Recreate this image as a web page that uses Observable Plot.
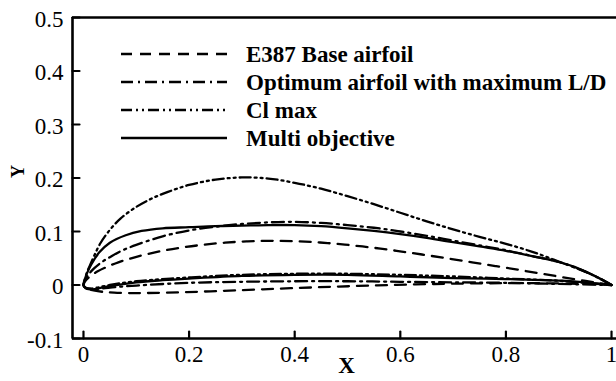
<!DOCTYPE html>
<html>
<head>
<meta charset="utf-8">
<script src="https://cdn.jsdelivr.net/npm/d3@7"></script>
<script src="https://cdn.jsdelivr.net/npm/@observablehq/plot@0.6"></script>
<style>
  html, body { margin: 0; padding: 0; background: #fff; overflow: hidden; }
</style>
</head>
<body>
<div id="chart"></div>
<script>
// Axis ticks and their labels
const xTicks = [0, 0.2, 0.4, 0.6, 0.8, 1];
const xTickLabels = ["0", "0.2", "0.4", "0.6", "0.8", "1"];
const yTicks = [-0.1, 0, 0.1, 0.2, 0.3, 0.4, 0.5];
const yTickLabels = ["-0.1", "0", "0.1", "0.2", "0.3", "0.4", "0.5"];
const xLimits = [-0.0208, 1.017];
const yLimits = [-0.1, 0.5];

const seriesNames = [
  "E387 Base airfoil",
  "Optimum airfoil with maximum L/D",
  "Cl max",
  "Multi objective"
];

// Surface coordinates [x/c, y/c], leading edge to trailing edge
const e387Upper = [[0,0],[0.0005,0.0023],[0.005,0.0093],[0.014,0.0173],[0.027,0.0256],[0.045,0.0341],[0.066,0.0424],[0.092,0.0503],[0.121,0.0578],[0.153,0.0645],[0.189,0.0704],[0.227,0.0753],[0.268,0.0791],[0.311,0.0816],[0.355,0.0825],[0.401,0.0817],[0.448,0.0794],[0.495,0.0755],[0.544,0.0702],[0.593,0.0639],[0.641,0.057],[0.689,0.0498],[0.736,0.0425],[0.78,0.0354],[0.822,0.0287],[0.86,0.0224],[0.895,0.0166],[0.926,0.0116],[0.951,0.0075],[0.972,0.0042],[0.987,0.0018],[1,0]];
const e387Lower = [[0,0],[0.001,-0.003],[0.007,-0.007],[0.019,-0.01],[0.036,-0.0127],[0.058,-0.0143],[0.086,-0.015],[0.118,-0.015],[0.155,-0.0144],[0.196,-0.0133],[0.241,-0.0118],[0.289,-0.01],[0.34,-0.008],[0.393,-0.006],[0.447,-0.0041],[0.502,-0.0023],[0.557,-0.0007],[0.611,0.0007],[0.665,0.0019],[0.716,0.0027],[0.765,0.0032],[0.81,0.0034],[0.852,0.0034],[0.889,0.0031],[0.922,0.0026],[0.949,0.002],[0.971,0.0013],[1,0]];

const optimumUpper = [[0,0],[0.004,0.01],[0.01,0.02],[0.02,0.031],[0.035,0.043],[0.05,0.052],[0.07,0.063],[0.1,0.075],[0.15,0.091],[0.2,0.102],[0.25,0.109],[0.3,0.114],[0.35,0.117],[0.4,0.118],[0.45,0.116],[0.5,0.112],[0.55,0.107],[0.6,0.1],[0.65,0.092],[0.7,0.083],[0.75,0.074],[0.8,0.065],[0.85,0.054],[0.9,0.043],[0.95,0.025],[0.98,0.011],[1,0]];
const optimumLower = [[0,0],[0.004,-0.005],[0.012,-0.007],[0.03,-0.007],[0.06,-0.004],[0.1,-0.001],[0.2,0.004],[0.3,0.006],[0.4,0.007],[0.5,0.007],[0.6,0.006],[0.7,0.005],[0.8,0.004],[0.9,0.002],[1,0]];

const clMaxUpper = [[0,0],[0.003,0.012],[0.007,0.025],[0.012,0.036],[0.02,0.054],[0.032,0.078],[0.05,0.103],[0.07,0.124],[0.1,0.146],[0.13,0.162],[0.16,0.174],[0.2,0.187],[0.25,0.197],[0.3,0.201],[0.35,0.199],[0.4,0.191],[0.45,0.18],[0.5,0.166],[0.55,0.151],[0.6,0.135],[0.65,0.119],[0.7,0.104],[0.75,0.09],[0.8,0.077],[0.85,0.062],[0.9,0.044],[0.95,0.025],[0.98,0.011],[1,0]];
const clMaxLower = [[0,0],[0.004,-0.005],[0.012,-0.007],[0.025,-0.005],[0.05,0],[0.1,0.007],[0.2,0.014],[0.3,0.019],[0.4,0.021],[0.5,0.021],[0.6,0.019],[0.7,0.016],[0.8,0.012],[0.9,0.008],[0.95,0.004],[1,0]];

const multiUpper = [[0,0],[0.003,0.012],[0.008,0.025],[0.015,0.039],[0.03,0.061],[0.05,0.079],[0.08,0.093],[0.11,0.101],[0.15,0.106],[0.2,0.108],[0.25,0.11],[0.3,0.111],[0.35,0.112],[0.4,0.112],[0.45,0.11],[0.5,0.106],[0.55,0.101],[0.6,0.095],[0.65,0.088],[0.7,0.08],[0.75,0.072],[0.8,0.064],[0.85,0.054],[0.9,0.043],[0.93,0.034],[0.96,0.021],[0.98,0.011],[1,0]];
const multiLower = [[0,0],[0.004,-0.006],[0.012,-0.008],[0.025,-0.007],[0.05,-0.002],[0.1,0.005],[0.15,0.009],[0.2,0.012],[0.3,0.017],[0.4,0.019],[0.5,0.019],[0.6,0.016],[0.7,0.013],[0.8,0.011],[0.9,0.008],[0.95,0.005],[1,0]];

// Line styles for each series (same order as seriesNames)
const dashStyles = ["11,8", "12,5,2,5", "11,4,2,4,2,4", null];

// Closed outline: upper surface from trailing edge to leading edge, then lower surface back
function outline(upper, lower) {
  return upper.slice().reverse().concat(lower.slice(1)).map(([x, y]) => ({x, y}));
}
const outlines = [
  outline(e387Upper, e387Lower),
  outline(optimumUpper, optimumLower),
  outline(clMaxUpper, clMaxLower),
  outline(multiUpper, multiLower)
];

// Short inward tick stroke for vector marks
const tickShape = {
  draw(context, l) { context.moveTo(0, 0); context.lineTo(0, -l); }
};

const plot = Plot.plot({
  width: 616,
  height: 381,
  marginLeft: 72,
  marginRight: -4,
  marginTop: 17,
  marginBottom: 43,
  x: {domain: xLimits},
  y: {domain: yLimits},
  style: {
    fontFamily: "'Liberation Serif', 'Times New Roman', serif",
    fontSize: "23px",
    color: "#000",
    background: "#fff"
  },
  marks: [
    ...outlines.map((pts, i) => Plot.line(pts, {
      x: "x", y: "y",
      curve: "catmull-rom",
      stroke: "#000",
      strokeWidth: 2.3,
      strokeDasharray: dashStyles[i]
    })),
    // frame: top, left and bottom edges
    Plot.ruleY([yLimits[1]], {stroke: "#000", strokeWidth: 2.6}),
    Plot.ruleY([yLimits[0]], {stroke: "#000", strokeWidth: 2.6}),
    Plot.ruleX([xLimits[0]], {stroke: "#000", strokeWidth: 2.6}),
    // inward tick marks
    Plot.vector(xTicks, {x: d => d, frameAnchor: "bottom", length: 7, anchor: "start", rotate: 0, shape: tickShape, stroke: "#000", strokeWidth: 2.2}),
    Plot.vector(yTicks, {y: d => d, frameAnchor: "left", length: 7, anchor: "start", rotate: 90, shape: tickShape, stroke: "#000", strokeWidth: 2.2}),
    Plot.axisX(xTicks, {tickSize: 0, tickPadding: 7, tickFormat: d => xTickLabels[xTicks.indexOf(d)], label: null, fontSize: 23}),
    Plot.axisY(yTicks, {tickSize: 0, tickPadding: 9, tickFormat: d => yTickLabels[yTicks.indexOf(d)], label: null, fontSize: 23, dy: 2}),
    Plot.text(["X"], {text: d => d, frameAnchor: "bottom", dy: 34, fontWeight: "bold", fontSize: 23}),
    Plot.text(["Y"], {text: d => d, frameAnchor: "left", dx: -54, rotate: -90, fontWeight: "bold", fontSize: 18})
  ]
});

document.getElementById("chart").appendChild(plot);

// Legend: line samples with bold labels in the upper-left of the panel
const svg = d3.select(plot);
const legend = svg.append("g").attr("class", "legend").attr("text-anchor", "start");
seriesNames.forEach((name, i) => {
  const yPos = 54 + i * 28;
  legend.append("line")
    .attr("x1", 121).attr("x2", 227)
    .attr("y1", yPos).attr("y2", yPos)
    .attr("stroke", "#000")
    .attr("stroke-width", 2.3)
    .attr("stroke-dasharray", dashStyles[i]);
  legend.append("text")
    .attr("x", 246).attr("y", yPos)
    .attr("dy", "0.33em")
    .attr("text-anchor", "start")
    .attr("font-weight", "bold")
    .attr("font-size", 23)
    .attr("fill", "#000")
    .text(name);
});
</script>
</body>
</html>
